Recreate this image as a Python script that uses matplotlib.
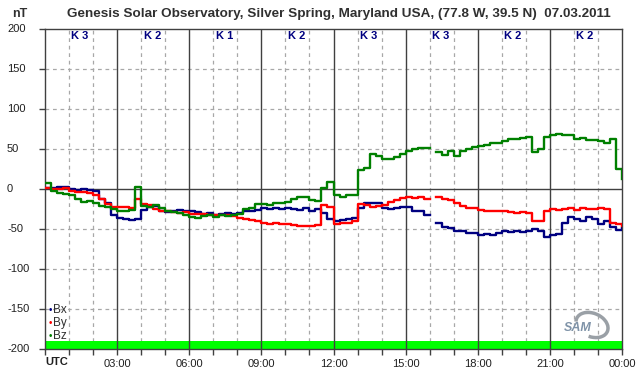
import numpy as np
import matplotlib
matplotlib.use("Agg")
import matplotlib.pyplot as plt
import matplotlib.transforms as mtransforms
from matplotlib import font_manager as fm
from matplotlib.patches import Arc

names = {f.name for f in fm.fontManager.ttflist}
FAM = "Liberation Sans" if "Liberation Sans" in names else "DejaVu Sans"
plt.rcParams["font.family"] = [FAM, "DejaVu Sans"]

W, H = 642, 376
nan = np.nan

# time grid in hours (every 15 minutes)
hours = np.arange(97) * 0.25

bx = [1, 1, 2, 3, 0, -1, 0, -1, -3, -12, -18, -33, -36, -38, -39, -38,
      -26, -22, -21, -28, -29, -27, -26, -28, -28, -29, -31, -30, -32, -31, -30, -31,
      -30, -27, -27, -26, -24, -25, -24, -25, -24, -25, -26, -24, -27, -25, -30, -37,
      -40, -39, -37, -36, -24, -18, -17, -18, -24, -25, -24, -22, -23, -27, -27, -33,
      nan, -42, -48, -49, -52, -53, -55, -55, -57, -56, -57, -55, -53, -54, -53, -54,
      -52, -50, -52, -60, -58, -56, -42, -35, -38, -40, -35, -38, -44, -40, -48, -51,
      -49]
by = [1, 0, 0, 1, -2, -4, -4, -5, -7, -12, -19, -23, -23, -23, -24, -13,
      -19, -20, -25, -27, -28, -29, -30, -29, -31, -31, -31, -32, -33, -33, -33, -34,
      -36, -38, -39, -40, -42, -44, -43, -44, -44, -45, -46, -46, -46, -45, -20, -22,
      -44, -43, -42, -40, -19, -20, -22, -21, -20, -16, -14, -11, -10, -11, -10, -13,
      nan, -10, -12, -14, -18, -21, -24, -24, -26, -27, -27, -28, -27, -29, -30, -29,
      -30, -40, -40, -27, -25, -26, -25, -24, -26, -24, -25, -25, -24, -25, -42, -44,
      -46]
bz = [8, -3, -5, -6, -8, -12, -16, -15, -17, -21, -22, -25, -27, -27, -26, 2,
      -21, -23, -20, -24, -28, -29, -30, -33, -35, -36, -34, -33, -35, -33, -34, -32,
      -31, -25, -24, -19, -19, -20, -18, -17, -16, -12, -10, -10, -14, -15, 1, 9,
      -8, -10, -7, -8, 24, 26, 44, 41, 38, 38, 40, 44, 47, 50, 51, 51,
      nan, 46, 43, 47, 41, 48, 50, 53, 54, 55, 57, 58, 60, 63, 62, 64,
      65, 46, 50, 65, 68, 69, 67, 67, 63, 64, 61, 61, 60, 58, 62, 25,
      12]

k_index = ["K 3", "K 2", "K 1", "K 2", "K 3", "K 3", "K 2", "K 2"]
x_labels = ["03:00", "06:00", "09:00", "12:00", "15:00", "18:00", "21:00", "00:00"]
y_labels = [200, 150, 100, 50, 0, -50, -100, -150, -200]
series_names = ["Bx", "By", "Bz"]
series_colors = ["#000080", "#ff0000", "#008000"]

title = "Genesis Solar Observatory, Silver Spring, Maryland USA, (77.8 W, 39.5 N)  07.03.2011"

fig = plt.figure(figsize=(W / 100, H / 100), dpi=100)
fig.patch.set_facecolor("white")
L, R, T, B = 45, 622, 29, 349
ax = fig.add_axes([L / W, 1 - B / H, (R - L) / W, (B - T) / H])
ax.set_xlim(0, 24)
ax.set_ylim(-200, 200)

dark = "#404040"
grid_c = "#a8a8a8"
# dashed grid
for h in range(1, 24):
    if h % 3:
        ax.axvline(h, color=grid_c, lw=0.9, ls=(0, (3, 3)), zorder=1)
for v in range(-150, 200, 50):
    if v != 0:
        ax.axhline(v, color=grid_c, lw=0.9, ls=(0, (3, 3)), zorder=1)
# green bar at bottom
ax.axhspan(-200, -190, color="#00ff00", lw=0, zorder=2)
# solid grid
for h in range(3, 24, 3):
    ax.axvline(h, color=dark, lw=1.0, zorder=3)
ax.axhline(0, color=dark, lw=1.0, zorder=3)

for vals, c in zip([bx, by, bz], series_colors):
    ax.plot(hours, vals, color=c, lw=1.7, drawstyle="steps-post", zorder=4)

for s in ax.spines.values():
    s.set_color(dark)
    s.set_linewidth(1.0)

ax.set_xticks(range(25))
ax.set_xticklabels(["" if (i % 3 or i == 0) else x_labels[i // 3 - 1] for i in range(25)])
ax.set_yticks(y_labels)
ax.set_yticklabels([])
ax.tick_params(axis="both", direction="out", length=4, width=1, color=dark,
               labelsize=8, labelcolor="#202020", pad=3)

# y tick labels (left aligned)
btr = mtransforms.blended_transform_factory(fig.transFigure, ax.transData)
for v in y_labels:
    fig.text(7 / W, v, str(v), transform=btr, ha="left", va="center",
             fontsize=8, color="#202020")

# UTC label
fig.text(L / W, 1 - 362 / H, "UTC", ha="left", va="center", fontsize=8,
         fontweight="bold", color="#202020")

# title and unit
fig.text(339 / W, 1 - 14 / H, title, ha="center", va="center", fontsize=9.7,
         fontweight="bold", color="#303030")
fig.text(12 / W, 1 - 14 / H, "nT", ha="left", va="center", fontsize=9,
         fontweight="bold", color="#303030")

# K index labels
for i, k in enumerate(k_index):
    ax.text(3 * i + 1.1, 1 - (36 - T) / (B - T), k, transform=ax.get_xaxis_transform(),
            ha="left", va="center", fontsize=8, fontweight="bold", color="#000080",
            zorder=5)

# legend
for i, (n, c) in enumerate(zip(series_names, series_colors)):
    yy = 1 - (310 + 13 * i) / H
    fig.text(50 / W, yy, "\u2022", ha="center", va="center", fontsize=7, color=c)
    fig.text(53 / W, yy, n, ha="left", va="center", fontsize=8.5, color="#303030")

# SAM logo
fig.text(578 / W, 1 - 328 / H, "SAM", ha="center", va="center", fontsize=9,
         style="italic", color="#7f93a8", fontweight="bold")
logo = Arc((592 / W, 1 - 325 / H), 30 / W, 26 / H, angle=20, theta1=-120, theta2=140,
           transform=fig.transFigure, color="#9aa0a6", lw=2.5)
fig.add_artist(logo)

fig.savefig("out.png", dpi=100)
